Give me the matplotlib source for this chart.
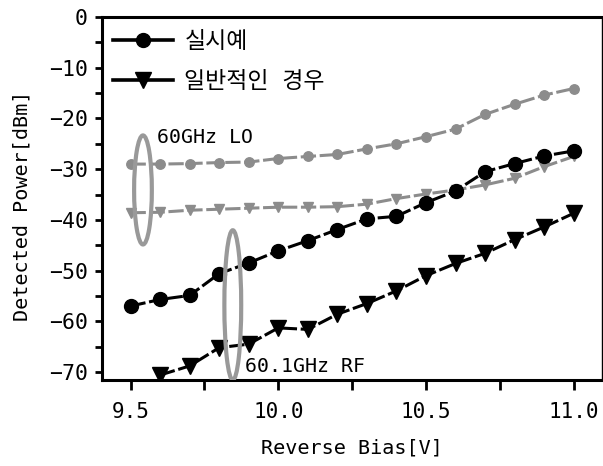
import matplotlib
matplotlib.use("Agg")
import matplotlib.pyplot as plt
from matplotlib.patches import Ellipse
from matplotlib.lines import Line2D
from matplotlib.ticker import MultipleLocator

plt.rcParams['font.family'] = ['DejaVu Sans Mono', 'Noto Sans CJK KR']

bias = [9.5, 9.6, 9.7, 9.8, 9.9, 10.0, 10.1, 10.2, 10.3, 10.4, 10.5, 10.6, 10.7, 10.8, 10.9, 11.0]
bias_rf_conv = bias[1:]

# 실시예 (black circles, RF)
rf_embodiment = [-57.0, -55.7, -54.9, -50.6, -48.5, -46.1, -44.1, -41.9, -39.8, -39.3,
                 -36.6, -34.3, -30.5, -28.9, -27.4, -26.4]
# 일반적인 경우 (black triangles, RF)
rf_conventional = [-70.6, -68.8, -65.2, -64.5, -61.3, -61.6, -58.6, -56.5, -54.0, -51.0,
                   -48.6, -46.6, -43.9, -41.4, -38.7]
# LO gray circles
lo_embodiment = [-29.0, -29.0, -28.9, -28.7, -28.6, -27.9, -27.5, -27.1, -26.0, -25.0,
                 -23.6, -22.1, -19.2, -17.2, -15.4, -14.1]
# LO gray triangles
lo_conventional = [-38.6, -38.5, -38.1, -37.9, -37.7, -37.5, -37.5, -37.4, -36.9, -35.8,
                   -34.9, -34.1, -33.1, -31.8, -29.5, -27.5]

legend_labels = ['실시예', '일반적인 경우']
xticks = [9.5, 10.0, 10.5, 11.0]
xticklabels = ['9.5', '10.0', '10.5', '11.0']
yticks = [0, -10, -20, -30, -40, -50, -60, -70]

gray = '#8c8c8c'
dash = (0, (5, 1.2))

fig = plt.figure(figsize=(6.03, 4.66), dpi=100)
ax = fig.add_axes([0.169, 0.1845, 0.829, 0.779])

ax.plot(bias, lo_embodiment, color=gray, lw=2.2, ls=dash, marker='o', ms=6.8, zorder=2)
ax.plot(bias, lo_conventional, color=gray, lw=2.2, ls=dash, marker='v', ms=7.5, zorder=2)
ax.plot(bias, rf_embodiment, color='black', lw=2.2, ls=dash, marker='o', ms=10, zorder=3)
ax.plot(bias_rf_conv, rf_conventional, color='black', lw=2.2, ls=dash, marker='v', ms=11, zorder=3)

ax.add_patch(Ellipse((9.542, -34.1), 0.06, 21.5, fill=False, edgecolor='#999999', lw=3, zorder=4))
ax.add_patch(Ellipse((9.846, -56.8), 0.057, 29.5, fill=False, edgecolor='#999999', lw=3, zorder=4))

ax.text(9.589, -23.8, '60GHz LO', fontsize=14.3, va='center', ha='left')
ax.text(9.887, -69.0, '60.1GHz RF', fontsize=14.3, va='center', ha='left')

handles = [Line2D([], [], color='black', lw=2.6, marker='o', ms=10),
           Line2D([], [], color='black', lw=2.6, marker='v', ms=11)]
ax.legend(handles, legend_labels, loc='upper left', bbox_to_anchor=(0.0, 0.995),
          frameon=False, fontsize=16.5, handlelength=2.6, handletextpad=0.5,
          labelspacing=0.72, borderaxespad=0.1)

ax.set_xlim(9.403, 11.095)
ax.set_ylim(-71.58, 0)
ax.set_xticks(xticks)
ax.set_xticklabels(xticklabels)
ax.set_yticks(yticks)
ax.xaxis.set_minor_locator(MultipleLocator(0.25))
ax.yaxis.set_minor_locator(MultipleLocator(5))
ax.tick_params(axis='x', which='both', direction='out', length=7, width=2, labelsize=15, pad=9)
ax.tick_params(axis='y', which='both', direction='out', length=5, width=2, labelsize=15.5, pad=5)

for s in ['left', 'top', 'bottom']:
    ax.spines[s].set_linewidth(2.2)
ax.spines['right'].set_linewidth(1.0)

ax.set_xlabel('Reverse Bias[V]', fontsize=14.5, labelpad=12)
ax.set_ylabel('Detected Power[dBm]', fontsize=14.5, labelpad=12)
ax.yaxis.set_label_coords(-0.14, 0.48)

fig.savefig('out.png', dpi=100)
